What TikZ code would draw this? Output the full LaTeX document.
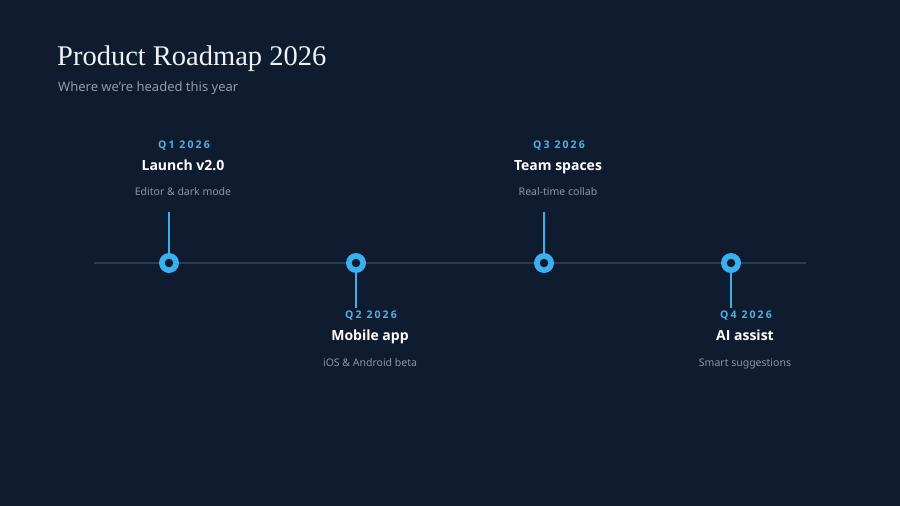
\documentclass[tikz,border=0pt]{standalone}
\usepackage{fontspec}
\setmainfont{Noto Sans}
\newfontfamily\titlefont{Liberation Serif}
\newfontfamily\boldsans{Open Sans}
\newfontfamily\qfont[LetterSpace=20]{Open Sans}
\definecolor{bg}{HTML}{0F1C30}
\definecolor{axis}{HTML}{2C3B52}
\definecolor{accent}{HTML}{3AB0EE}
\definecolor{qcol}{HTML}{4BB2E8}
\definecolor{titlec}{HTML}{EEF1F5}
\definecolor{subc}{HTML}{8E9AAE}
\definecolor{descc}{HTML}{8A96A8}
\begin{document}
\begin{tikzpicture}[x=1pt,y=-1pt,
  qlabel/.style={text=qcol,font=\qfont\bfseries\fontsize{10.5}{12}\selectfont,inner sep=0pt,anchor=base},
  headlabel/.style={text=white,font=\boldsans\bfseries\fontsize{14}{16}\selectfont,inner sep=0pt,anchor=base},
  desclabel/.style={text=descc,font=\fontsize{10.5}{12}\selectfont,inner sep=0pt,anchor=base},
  dotouter/.style={circle,fill=accent,minimum size=20pt,inner sep=0pt},
  dotinner/.style={circle,fill=bg,minimum size=8.5pt,inner sep=0pt},
  stem/.style={draw=accent,line width=2pt},
  axisline/.style={draw=axis,line width=2pt}]
\fill[bg] (0,0) rectangle (900,506);
\useasboundingbox (0,0) rectangle (900,506);
\node[anchor=base west,inner sep=0pt,text=titlec,font=\titlefont\fontsize{28.5}{32}\selectfont] (title) at (57,65) {Product Roadmap 2026};
\node[anchor=base west,inner sep=0pt,text=subc,font=\fontsize{13}{15}\selectfont] (subtitle) at (58,91) {Where we’re headed this year};
\coordinate (axl) at (94,263);
\coordinate (axr) at (806,263);
\draw[axisline] (axl) -- (axr);
% stems
\coordinate (s1) at (169,212);
\coordinate (s2) at (356,308);
\coordinate (s3) at (544,212);
\coordinate (s4) at (731,308);
\node[dotouter] (d1) at (169,263) {};
\node[dotouter] (d2) at (356,263) {};
\node[dotouter] (d3) at (544,263) {};
\node[dotouter] (d4) at (731,263) {};
\draw[stem] (s1) -- (d1.north);
\draw[stem] (s3) -- (d3.north);
\draw[stem] (d2.south) -- (s2);
\draw[stem] (d4.south) -- (s4);
\node[dotinner] (i1) at (d1) {};
\node[dotinner] (i2) at (d2) {};
\node[dotinner] (i3) at (d3) {};
\node[dotinner] (i4) at (d4) {};
% labels top
\node[qlabel] (q1) at (184,148) {Q1 2026};
\node[headlabel] (h1) at (183,170) {Launch v2.0};
\node[desclabel] (e1) at (183,195) {Editor \& dark mode};
\node[qlabel] (q3) at (559,148) {Q3 2026};
\node[headlabel] (h3) at (558,170) {Team spaces};
\node[desclabel] (e3) at (558,195) {Real-time collab};
% labels bottom
\node[qlabel] (q2) at (371,318) {Q2 2026};
\node[headlabel] (h2) at (370,340) {Mobile app};
\node[desclabel] (e2) at (370,366) {iOS \& Android beta};
\node[qlabel] (q4) at (746,318) {Q4 2026};
\node[headlabel] (h4) at (745,340) {AI assist};
\node[desclabel] (e4) at (745,366) {Smart suggestions};
\end{tikzpicture}
\end{document}
